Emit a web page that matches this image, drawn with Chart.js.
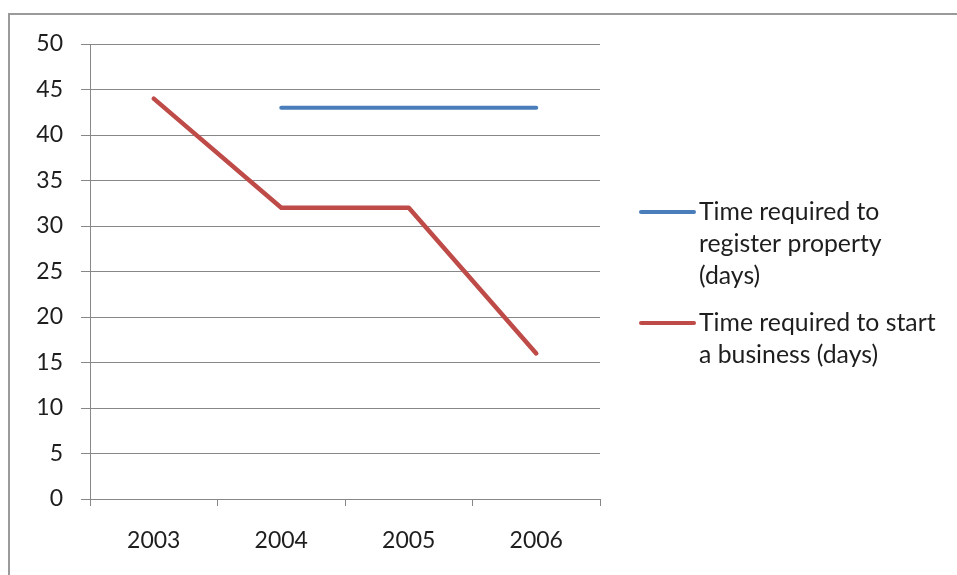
<!DOCTYPE html>
<html>
<head>
<meta charset="utf-8">
<script src="https://cdn.jsdelivr.net/npm/chart.js@4.4.1/dist/chart.umd.min.js"></script>
<style>
  html, body { margin: 0; padding: 0; background: #ffffff; }
  #wrap { width: 957px; height: 575px; position: relative; }
</style>
</head>
<body>
<div id="wrap"><canvas id="chart" width="957" height="575"></canvas></div>
<script>
// Years on the category axis
const years = ['2003', '2004', '2005', '2006'];

// Days required, per year
const registerProperty = [null, 43, 43, 43];
const startBusiness = [44, 32, 32, 16];

// Legend text, already broken into lines
const registerLines = ['Time required to', 'register property', '(days)'];
const businessLines = ['Time required to start', 'a business (days)'];

// Y axis range
const yMin = 0;
const yMax = 50;
const yStep = 5;

const FONT = 'Lato, "Open Sans", sans-serif';
const TEXT = '#1e1e1e';
const GRID = '#878787';

// Grey frame along the top and left edges
const framePlugin = {
  id: 'frame',
  beforeDraw(chart) {
    const ctx = chart.ctx;
    ctx.save();
    ctx.strokeStyle = '#9a9a9a';
    ctx.lineWidth = 2;
    ctx.beginPath();
    ctx.moveTo(9, 575);
    ctx.lineTo(9, 14);
    ctx.lineTo(957, 14);
    ctx.stroke();
    ctx.restore();
  }
};

// Legend on the right with wrapped labels
const sideLegend = {
  id: 'sideLegend',
  afterDraw(chart) {
    const ctx = chart.ctx;
    const entries = [
      { ds: chart.data.datasets[0], lines: registerLines, y: 212 },
      { ds: chart.data.datasets[1], lines: businessLines, y: 323 }
    ];
    ctx.save();
    entries.forEach(e => {
      ctx.strokeStyle = e.ds.borderColor;
      ctx.lineWidth = 4;
      ctx.lineCap = 'round';
      ctx.beginPath();
      ctx.moveTo(641, e.y);
      ctx.lineTo(694, e.y);
      ctx.stroke();
      ctx.fillStyle = TEXT;
      ctx.font = '24.8px ' + FONT;
      ctx.textAlign = 'left';
      ctx.textBaseline = 'middle';
      e.lines.forEach((t, i) => ctx.fillText(t, 699, e.y + i * 32));
    });
    ctx.restore();
  }
};

new Chart(document.getElementById('chart'), {
  type: 'line',
  data: {
    labels: years,
    datasets: [
      {
        label: registerLines.join(' '),
        data: registerProperty,
        borderColor: '#4a7ebb',
        borderWidth: 4,
        pointRadius: 0,
        borderCapStyle: 'round',
        borderJoinStyle: 'round',
        tension: 0,
        spanGaps: false
      },
      {
        label: businessLines.join(' '),
        data: startBusiness,
        borderColor: '#be4b48',
        borderWidth: 4.5,
        pointRadius: 0,
        borderCapStyle: 'round',
        borderJoinStyle: 'round',
        tension: 0
      }
    ]
  },
  options: {
    responsive: false,
    animation: false,
    devicePixelRatio: 1,
    layout: { padding: { left: 0, top: 44, right: 357, bottom: 0 } },
    plugins: {
      legend: { display: false },
      tooltip: { enabled: false }
    },
    scales: {
      x: {
        type: 'category',
        offset: true,
        afterFit(scale) { scale.height = 76; },
        grid: {
          offset: true,
          drawOnChartArea: false,
          drawTicks: true,
          tickLength: 7,
          color: GRID,
          lineWidth: 1
        },
        border: { display: true, color: GRID, width: 1 },
        ticks: {
          color: TEXT,
          font: { family: FONT, size: 23 },
          padding: 21,
          maxRotation: 0
        }
      },
      y: {
        min: yMin,
        max: yMax,
        afterFit(scale) { scale.width = 90; },
        grid: {
          color: GRID,
          lineWidth: 1,
          drawTicks: true,
          tickLength: 9
        },
        border: { display: true, color: GRID, width: 1 },
        ticks: {
          stepSize: yStep,
          color: TEXT,
          font: { family: FONT, size: 23 },
          padding: 18
        }
      }
    }
  },
  plugins: [framePlugin, sideLegend]
});
</script>
</body>
</html>
